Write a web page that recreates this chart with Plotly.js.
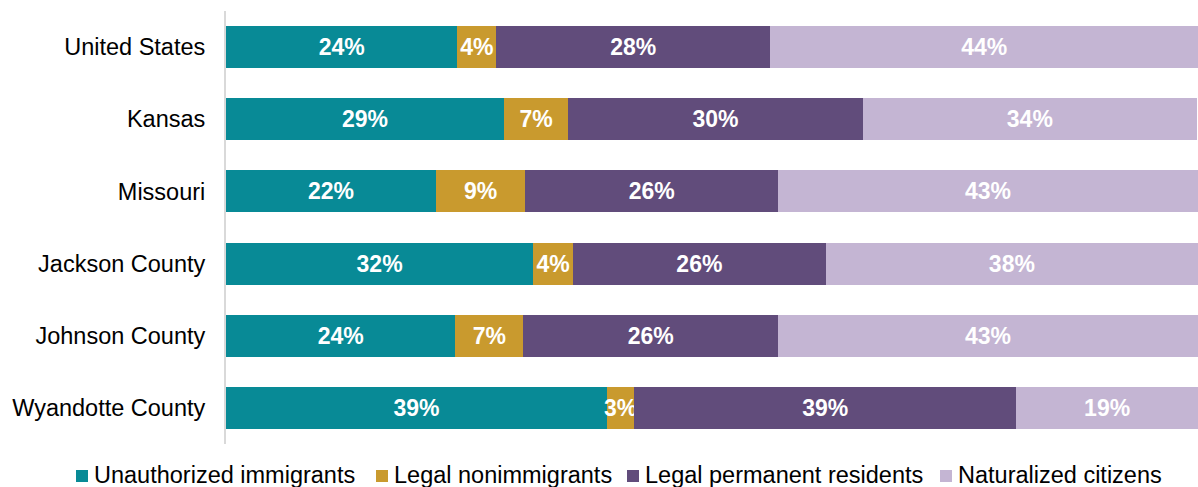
<!DOCTYPE html>
<html>
<head>
<meta charset="utf-8">
<script src="https://cdn.plot.ly/plotly-3.0.1.min.js"></script>
<style>html,body{margin:0;padding:0;background:#fff;}#chart{width:1198px;height:487px;}</style>
</head>
<body>
<div id="chart"></div>
<script>
var categories = ["United States", "Kansas", "Missouri", "Jackson County", "Johnson County", "Wyandotte County"];
var unauthorized = [23.8, 28.6, 21.6, 31.6, 23.6, 39.2];
var nonimmigrants = [4.0, 6.6, 9.2, 4.1, 7.0, 2.8];
var permanent = [28.2, 30.3, 26.0, 26.0, 26.2, 39.3];
var naturalized = [44.0, 34.4, 43.2, 38.3, 43.2, 18.7];
var seriesNames = ["Unauthorized immigrants", "Legal nonimmigrants", "Legal permanent residents", "Naturalized citizens"];
var seriesColors = ["#088A96", "#C99A2E", "#614C7B", "#C4B5D3"];
var seriesValues = [unauthorized, nonimmigrants, permanent, naturalized];

var font = "Liberation Sans, Arial, sans-serif";
var W = 1198, H = 487;
var M = {l: 226, r: 0, t: 11, b: 43};
var plotW = W - M.l - M.r, plotH = H - M.t - M.b;

var traces = seriesValues.map(function(vals, i) {
  return {
    type: "bar",
    orientation: "h",
    name: seriesNames[i],
    y: categories,
    x: vals,
    marker: {color: seriesColors[i], line: {width: 0}},
    texttemplate: "%{x:.0f}%",
    textposition: "inside",
    insidetextanchor: "middle",
    textangle: 0,
    constraintext: "none",
    insidetextfont: {family: font, size: 23, color: "#ffffff", weight: "bold"},
    hoverinfo: "skip",
    showlegend: false
  };
});

// custom legend (pixel layout converted to paper coordinates)
var legendStartsPx = [76, 376, 627, 940];
var legendCenterPx = 476;
var markerSize = 12;
var shapes = [], annotations = [];
function px2x(p) { return (p - M.l) / plotW; }
function py2y(p) { return (M.t + plotH - p) / plotH; }
seriesNames.forEach(function(name, i) {
  var x0 = legendStartsPx[i];
  shapes.push({
    type: "rect", xref: "paper", yref: "paper",
    x0: px2x(x0), x1: px2x(x0 + markerSize),
    y0: py2y(legendCenterPx + markerSize / 2), y1: py2y(legendCenterPx - markerSize / 2),
    fillcolor: seriesColors[i], line: {width: 0}
  });
  annotations.push({
    xref: "paper", yref: "paper",
    x: px2x(x0 + markerSize + 4), y: py2y(legendCenterPx - 1),
    xanchor: "left", yanchor: "middle",
    text: name, showarrow: false,
    font: {family: font, size: 23.5, color: "#000000"}
  });
});

var layout = {
  width: W,
  height: H,
  margin: M,
  barmode: "stack",
  bargap: 0.42,
  paper_bgcolor: "#ffffff",
  plot_bgcolor: "#ffffff",
  showlegend: false,
  shapes: shapes,
  annotations: annotations,
  xaxis: {
    range: [0, 100],
    showgrid: false,
    zeroline: false,
    showticklabels: false,
    showline: false,
    fixedrange: true
  },
  yaxis: {
    autorange: "reversed",
    showgrid: false,
    zeroline: false,
    showline: true,
    linecolor: "#D9D9D9",
    linewidth: 2,
    ticks: "",
    ticklabelstandoff: 14,
    tickfont: {family: font, size: 23.5, color: "#000000"},
    fixedrange: true
  }
};

Plotly.newPlot("chart", traces, layout, {displayModeBar: false, staticPlot: true});
</script>
</body>
</html>
